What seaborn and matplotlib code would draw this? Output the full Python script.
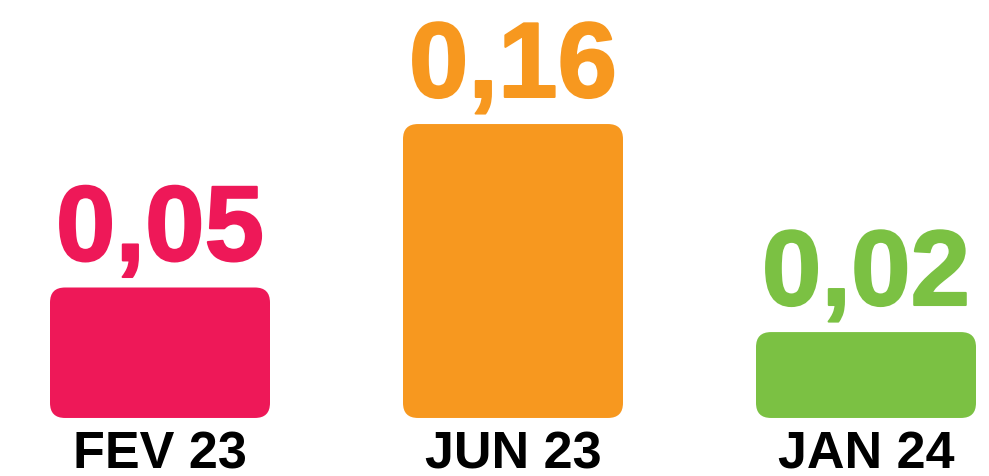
import numpy as np
import pandas as pd
import seaborn as sns
import matplotlib.pyplot as plt
import matplotlib.patheffects as pe
from matplotlib.patches import FancyBboxPatch

# Data
periods = ["FEV 23", "JUN 23", "JAN 24"]
values = [0.05, 0.16, 0.02]
value_labels = ["0,05", "0,16", "0,02"]
colors = ["#EE1858", "#F7981F", "#7BC143"]

df = pd.DataFrame({"period": periods, "value": values})

W, H, DPI = 989, 477, 100
px_x = 353.0      # pixels per category step
px_y = 1486.0     # pixels per value unit
baseline = -0.0378  # bars start below zero
radius_px = 15

sns.set_theme(style="white")
plt.rcParams["font.family"] = ["Liberation Sans", "DejaVu Sans"]

fig = plt.figure(figsize=(W / DPI, H / DPI), dpi=DPI)
ax = fig.add_axes([0, 0, 1, 1])

sns.barplot(data=df, x="period", y="value", hue="period", palette=colors,
            width=220 / px_x, legend=False, ax=ax)

ax.set_xlim(-160 / px_x, -160 / px_x + W / px_x)
ax.set_ylim(-114.2 / px_y, -114.2 / px_y + H / px_y)
ax.axis("off")

# swap plain bars for rounded ones
bars = list(ax.patches)
for bar, col in zip(bars, colors):
    x0, w, top = bar.get_x(), bar.get_width(), bar.get_height()
    bar.remove()
    rb = FancyBboxPatch((x0, baseline), w, top - baseline,
                        boxstyle="round,pad=0,rounding_size=%f" % (radius_px / px_x),
                        mutation_aspect=px_x / px_y,
                        facecolor=col, edgecolor="none")
    ax.add_patch(rb)

for i, (v, lab, per, col) in enumerate(zip(values, value_labels, periods, colors)):
    t = ax.annotate(lab, (i, v), xytext=(0, 19.5), textcoords="offset points",
                    ha="center", va="baseline", color=col, fontsize=77,
                    fontweight="bold")
    t.set_path_effects([pe.Stroke(linewidth=1.5, foreground=col), pe.Normal()])
    ax.annotate(per, (i, baseline), xytext=(0, -36), textcoords="offset points",
                ha="center", va="baseline", color="black", fontsize=37.5,
                fontweight="bold")

fig.savefig("out.png", dpi=DPI)
